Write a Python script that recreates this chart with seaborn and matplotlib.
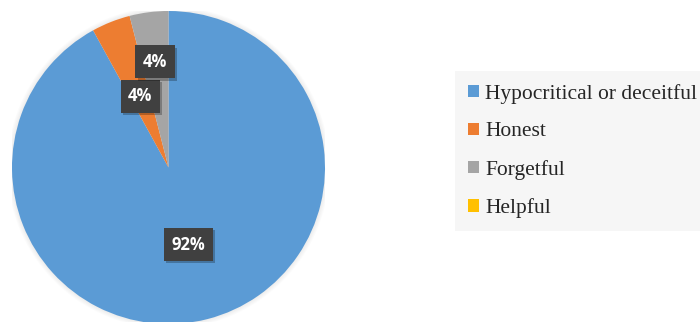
import numpy as np
import matplotlib
matplotlib.use("Agg")
import matplotlib.pyplot as plt
from matplotlib.patches import Patch, Circle
import matplotlib.patheffects as pe
import seaborn as sns

categories = ["Hypocritical or deceitful", "Honest", "Forgetful", "Helpful"]
shares = [92, 4, 4, 0]
value_labels = ["92%", "4%", "4%", None]
label_radius = [0.51, 0.49, 0.68, None]
colors = ["#5b9bd5", "#ed7d31", "#a5a5a5", "#ffc000"]

sns.set_theme(style="white")
plt.rcParams["font.family"] = ["DejaVu Sans"]

fig = plt.figure(figsize=(7.0, 3.22), dpi=100)
W, H = 700, 322
cx, cy, r = 168.5, 322 - 167.5, 156.5
ax = fig.add_axes([(cx - r) / W, (cy - r) / H, 2 * r / W, 2 * r / H])

# faint halo behind the pie
for k in range(6):
    ax.add_patch(Circle((0, 0), 1.0 + 0.005 * (k + 1), color="#000000",
                        alpha=0.012, lw=0, zorder=0))

wedges, _ = ax.pie(shares, colors=colors, startangle=90, counterclock=False,
                   radius=1.0, wedgeprops=dict(linewidth=0))
for w in wedges:
    w.set_zorder(1)

for w, lab, rad in zip(wedges, value_labels, label_radius):
    if lab is None:
        continue
    ang = np.deg2rad((w.theta1 + w.theta2) / 2)
    x, y = rad * np.cos(ang), rad * np.sin(ang)
    t = ax.text(x, y, lab, ha="center", va="center", fontsize=12, fontweight="bold",
                family="Open Sans", color="white",
                bbox=dict(boxstyle="square,pad=0.45", fc="#404040", ec="none"), zorder=4)
    t.get_bbox_patch().set_path_effects([
        pe.SimplePatchShadow(offset=(1.5, -1.5), shadow_rgbFace="#000000", alpha=0.25),
        pe.Normal()])

ax.set_xlim(-1, 1)
ax.set_ylim(-1, 1)
ax.set_aspect("equal")
ax.axis("off")

handles = [Patch(facecolor=c, edgecolor="none") for c in colors]
leg = fig.legend(handles, categories, loc="upper left",
                 bbox_to_anchor=(455 / W, 1 - 71 / H),
                 frameon=True, facecolor="#f6f6f6", edgecolor="none", fancybox=False,
                 prop=dict(family="Liberation Serif", size=15.5),
                 handlelength=0.5, handleheight=0.5, handletextpad=0.3,
                 labelspacing=0.86, borderpad=0.6, borderaxespad=0)
leg.get_frame().set_alpha(1)

fig.savefig("out.png", dpi=100)
